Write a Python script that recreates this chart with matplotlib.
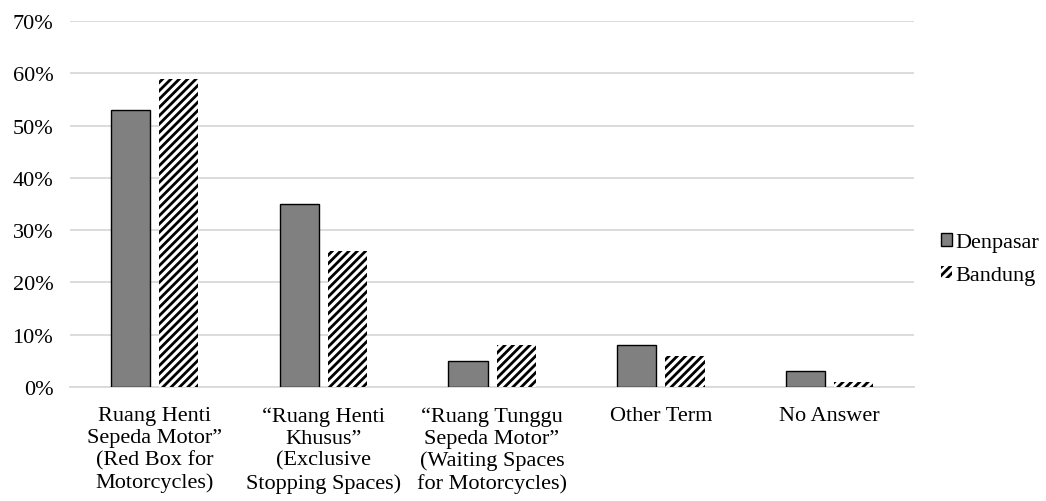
import matplotlib
matplotlib.use("Agg")
import matplotlib.pyplot as plt
import numpy as np

categories = [
    "Ruang Henti\nSepeda Motor\u201d\n(Red Box for\nMotorcycles)",
    "\u201cRuang Henti\nKhusus\u201d\n(Exclusive\nStopping Spaces)",
    "\u201cRuang Tunggu\nSepeda Motor\u201d\n(Waiting Spaces\nfor Motorcycles)",
    "Other Term",
    "No Answer",
]
denpasar = [53, 35, 5, 8, 3]
bandung = [59, 26, 8, 6, 1]
yticks = [0, 10, 20, 30, 40, 50, 60, 70]

plt.rcParams["font.family"] = ["Liberation Serif", "DejaVu Serif"]
plt.rcParams["hatch.linewidth"] = 2.0

fig = plt.figure(figsize=(10.46, 5.02), dpi=100)
ax = fig.add_axes([0.0669, 0.227, 0.807, 0.729])

x = np.arange(len(categories))
w = 0.232
gap = 0.053
fs = 16
ax.bar(x - (w + gap) / 2, denpasar, width=w, color="#808080",
       edgecolor="black", linewidth=1.0, label="Denpasar", zorder=3)
ax.bar(x + (w + gap) / 2, bandung, width=w, color="white",
       edgecolor="black", linewidth=0, hatch="////", label="Bandung", zorder=3)

ax.set_xlim(-0.5, len(categories) - 0.5)
ax.set_ylim(0, 70)
ax.set_yticks(yticks)
ax.set_yticklabels([f"{v}%" for v in yticks], fontsize=fs)
ax.yaxis.grid(True, color="#d9d9d9", linewidth=1.3, zorder=0)
ax.set_axisbelow(True)
for s in ["top", "right", "left"]:
    ax.spines[s].set_visible(False)
ax.spines["bottom"].set_color("#d9d9d9")
ax.spines["bottom"].set_linewidth(1.3)
ax.tick_params(axis="both", length=0)
ax.tick_params(axis="y", pad=12)
ax.tick_params(axis="x", pad=14)
ax.set_xticks(x)
ax.set_xticklabels(categories, fontsize=fs, linespacing=1.2)

ax.legend(loc="center left", bbox_to_anchor=(1.008, 0.35), frameon=False,
          fontsize=fs, handlelength=0.5, handleheight=0.5,
          handletextpad=0.15, labelspacing=0.6)

fig.savefig("out.png", dpi=100)
